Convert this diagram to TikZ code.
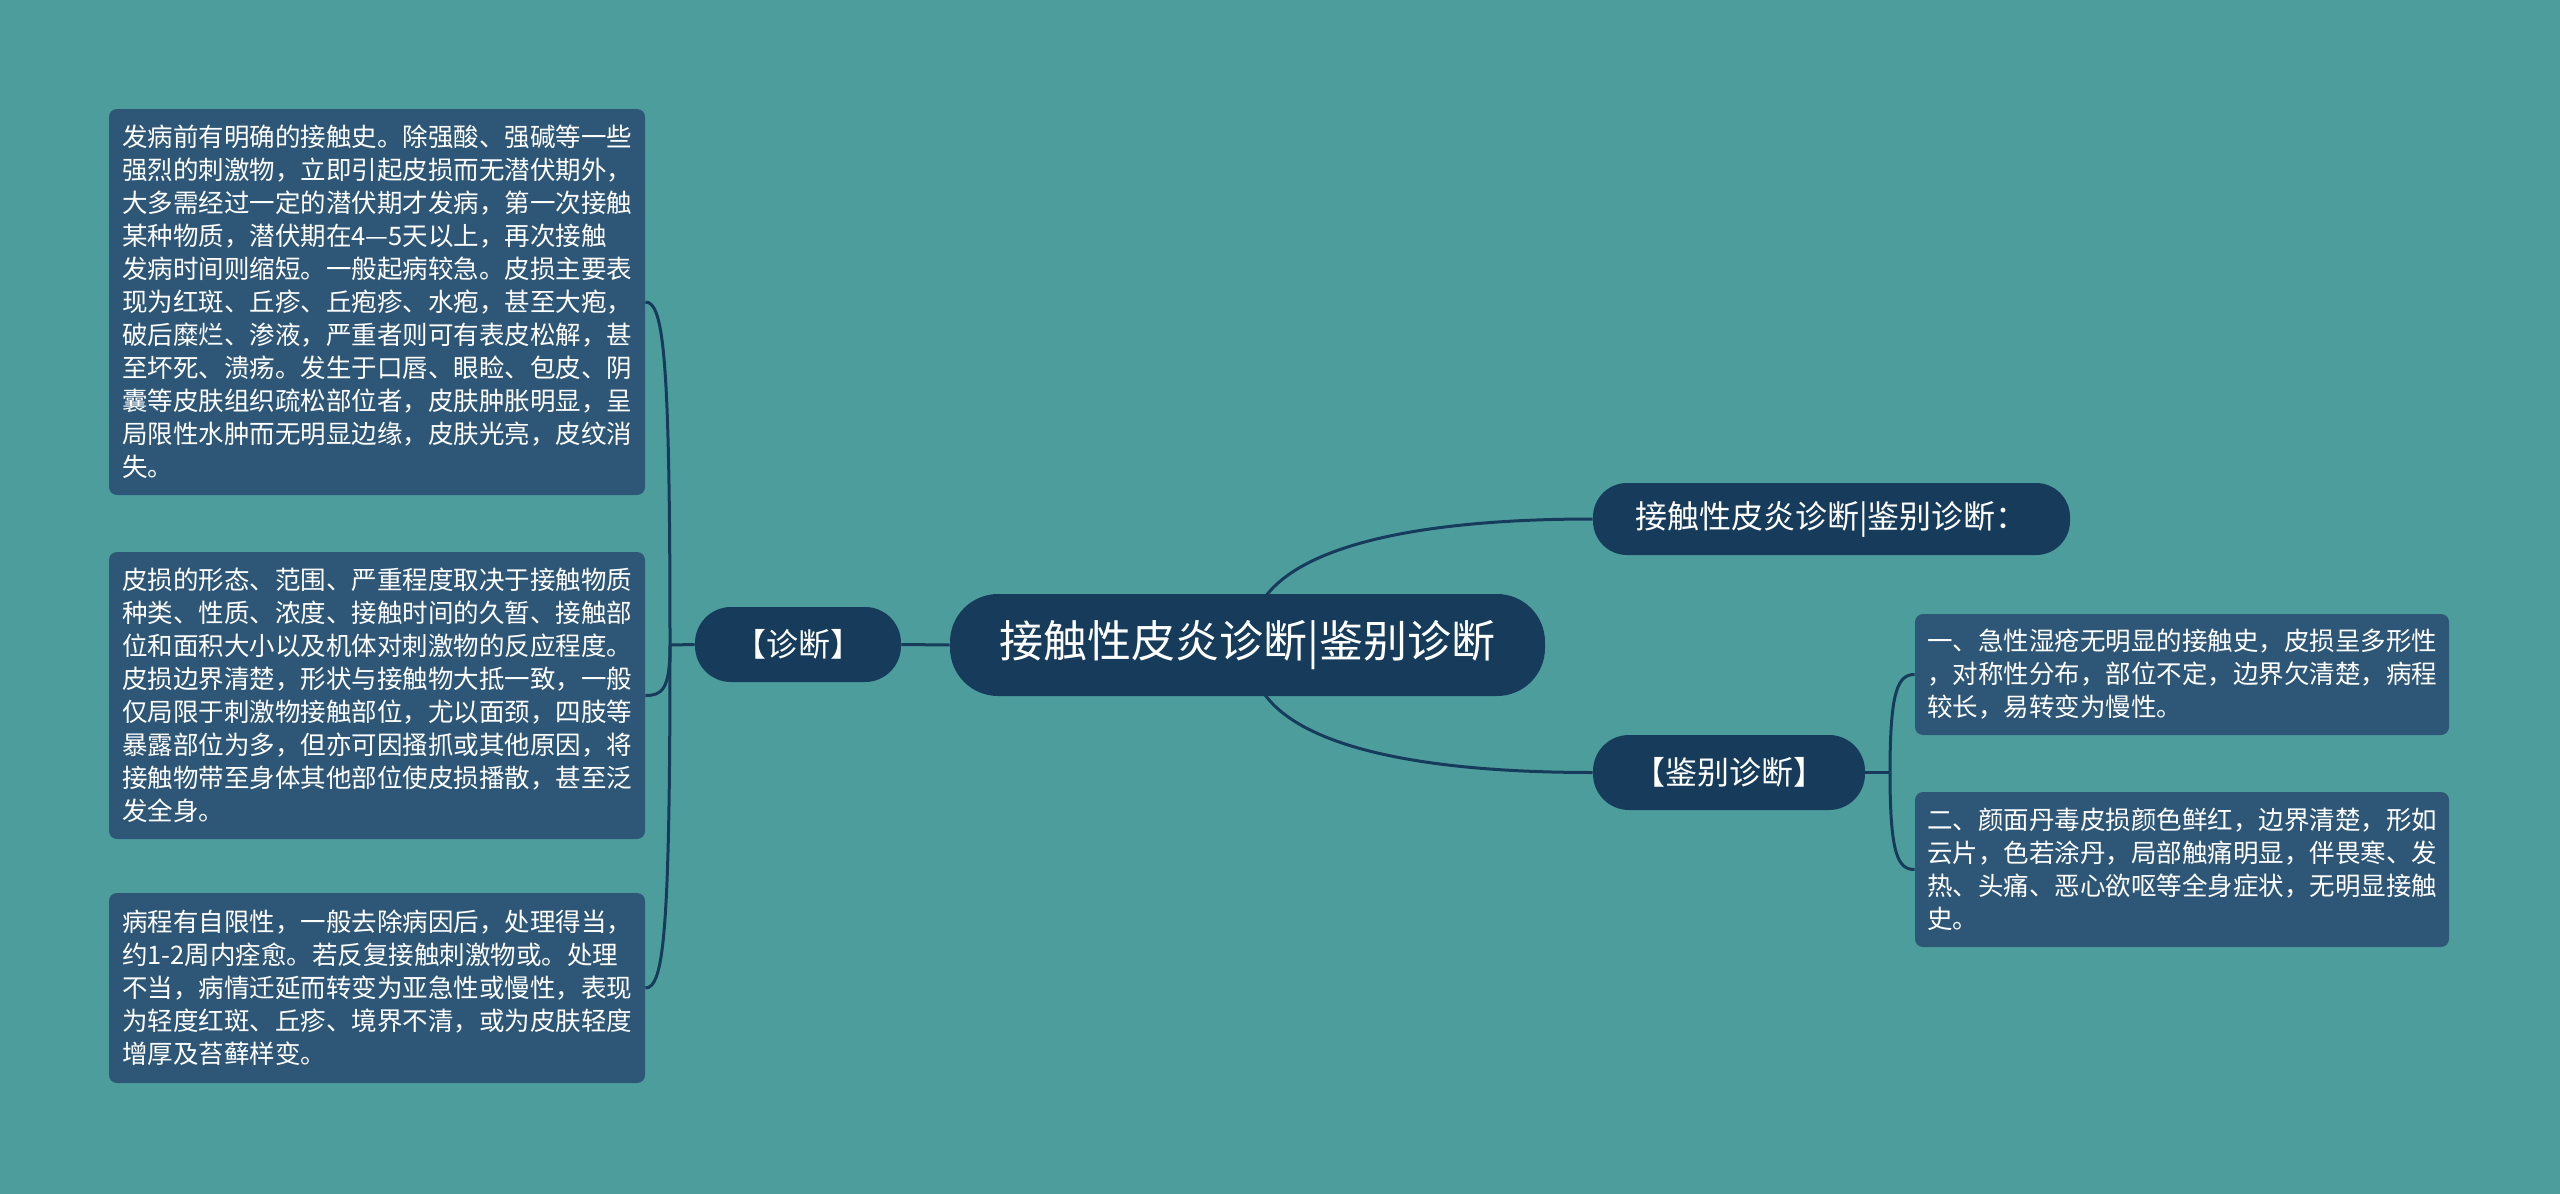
\documentclass[tikz,border=0pt]{standalone}
\usepackage{fontspec}
\setmainfont{Noto Sans CJK SC}
\usetikzlibrary{calc}
\definecolor{bgc}{HTML}{4E9D9D}
\definecolor{navy}{HTML}{173C5B}
\definecolor{boxc}{HTML}{2E5777}
\pgfdeclarelayer{bglayer}
\pgfdeclarelayer{linelayer}
\pgfsetlayers{bglayer,linelayer,main}
\begin{document}
\begin{tikzpicture}[x=0.5pt,y=-0.5pt,
  txtbox/.style={fill=boxc, rounded corners=4pt, text=white, align=left, inner sep=0pt,
    minimum width=268pt, font=\fontsize{12.75pt}{16.5pt}\selectfont},
  pill/.style={fill=navy, text=white, inner sep=0pt, font=\fontsize{16pt}{19pt}\selectfont},
  link/.style={draw=navy, line width=1.5pt}]
\begin{pgfonlayer}{bglayer}
\fill[bgc] (0,0) rectangle (2560,1194);
\end{pgfonlayer}
\useasboundingbox (0,0) rectangle (2560,1194);

% centre
\node[pill, minimum width=297.5pt, minimum height=51pt, rounded corners=24pt,
  font=\fontsize{22pt}{26pt}\selectfont] (c) at (1247.5,645) {接触性皮炎诊断|鉴别诊断};

% left branch
\node[pill, minimum width=103pt, minimum height=37.5pt, rounded corners=18pt] (d) at (798,644.5) {【诊断】};

\node[txtbox, minimum height=193pt] (b1) at (377,302) {%
发病前有明确的接触史。除强酸、强碱等一些\\%
强烈的刺激物，立即引起皮损而无潜伏期外，\\%
大多需经过一定的潜伏期才发病，第一次接触\\%
某种物质，潜伏期在4—5天以上，再次接触\\%
发病时间则缩短。一般起病较急。皮损主要表\\%
现为红斑、丘疹、丘疱疹、水疱，甚至大疱，\\%
破后糜烂、渗液，严重者则可有表皮松解，甚\\%
至坏死、溃疡。发生于口唇、眼睑、包皮、阴\\%
囊等皮肤组织疏松部位者，皮肤肿胀明显，呈\\%
局限性水肿而无明显边缘，皮肤光亮，皮纹消\\%
失。};

\node[txtbox, minimum height=143.5pt] (b2) at (377,695.5) {%
皮损的形态、范围、严重程度取决于接触物质\\%
种类、性质、浓度、接触时间的久暂、接触部\\%
位和面积大小以及机体对刺激物的反应程度。\\%
皮损边界清楚，形状与接触物大抵一致，一般\\%
仅局限于刺激物接触部位，尤以面颈，四肢等\\%
暴露部位为多，但亦可因搔抓或其他原因，将\\%
接触物带至身体其他部位使皮损播散，甚至泛\\%
发全身。};

\node[txtbox, minimum height=95pt] (b3) at (377,988) {%
病程有自限性，一般去除病因后，处理得当，\\%
约1-2周内痊愈。若反复接触刺激物或。处理\\%
不当，病情迁延而转变为亚急性或慢性，表现\\%
为轻度红斑、丘疹、境界不清，或为皮肤轻度\\%
增厚及苔藓样变。};

% right branch
\node[pill, minimum width=238.5pt, minimum height=36pt, rounded corners=17pt] (n1) at (1831.5,519) {接触性皮炎诊断|鉴别诊断：};
\node[pill, minimum width=136pt, minimum height=37.5pt, rounded corners=18pt] (n2) at (1729,772.5) {【鉴别诊断】};

\node[txtbox, minimum width=267pt, minimum height=60.5pt] (ba) at (2182,674.5) {%
一、急性湿疮无明显的接触史，皮损呈多形性\\%
，对称性分布，部位不定，边界欠清楚，病程\\%
较长，易转变为慢性。};

\node[txtbox, minimum width=267pt, minimum height=77.5pt] (bb) at (2182,869.5) {%
二、颜面丹毒皮损颜色鲜红，边界清楚，形如\\%
云片，色若涂丹，局部触痛明显，伴畏寒、发\\%
热、头痛、恶心欲呕等全身症状，无明显接触\\%
史。};

% junctions
\coordinate (jl) at (670,645);
\coordinate (jr) at (1890,772.5);
\coordinate (cT) at (1263,600);
\coordinate (cB) at (1263,692);

\begin{pgfonlayer}{linelayer}
\draw[link] (c.west) -- (d.east);
\draw[link] (d.west) -- (jl);
\draw[link] (jl) .. controls (670,360) and (664,302) .. (b1.east);
\draw[link] (jl) .. controls (670,690) and (662,695.5) .. (b2.east);
\draw[link] (jl) .. controls (670,930) and (664,988) .. (b3.east);
\draw[link] (cT) .. controls (1300,545) and (1420,519) .. (n1.west);
\draw[link] (cB) .. controls (1300,747) and (1420,772.5) .. (n2.west);
\draw[link] (n2.east) -- (jr);
\draw[link] (jr) .. controls (1890,690) and (1898,674.5) .. (ba.west);
\draw[link] (jr) .. controls (1890,855) and (1898,869.5) .. (bb.west);
\end{pgfonlayer}
\end{tikzpicture}
\end{document}
